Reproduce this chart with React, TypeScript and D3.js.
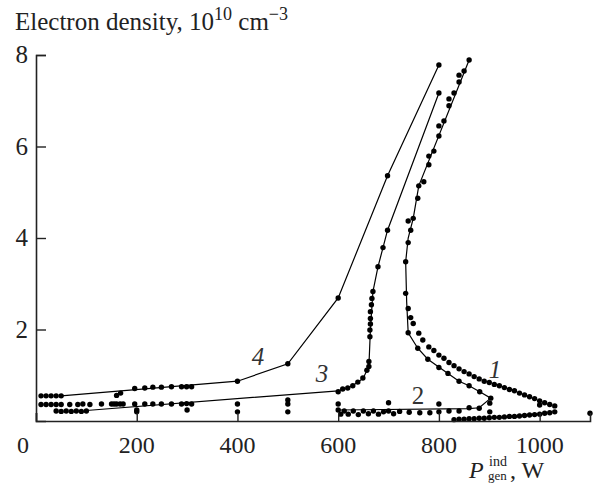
import React, { useEffect, useRef } from "react";
import * as d3 from "d3";

type Pt = [number, number];

// tick labels
const xTicks = [0, 200, 400, 600, 800, 1000];
const yTicks = [2, 4, 6, 8];

// curve 4
const curve4Line: Pt[] = [[50, 0.55], [400, 0.87], [500, 1.25], [600, 2.69], [698, 5.36], [800, 7.78]];
const curve4Dots: Pt[] = [
  [10, 0.55], [20, 0.55], [30, 0.55], [40, 0.55], [50, 0.55],
  [160, 0.56], [168, 0.61], [196, 0.71], [216, 0.72], [232, 0.74], [249, 0.74],
  [269, 0.75], [289, 0.75], [299, 0.75], [309, 0.75],
  [400, 0.87], [500, 1.25], [600, 2.69], [698, 5.36], [800, 7.78],
];

// curve 3
const curve3Line: Pt[] = [
  [100, 0.23], [600, 0.66], [620, 0.72], [640, 0.85], [650, 0.94], [661, 1.2],
  [664, 2.0], [669, 2.83], [679, 3.37], [689, 3.79], [698, 4.17], [800, 7.17],
];
const curve3Dots: Pt[] = [
  [10, 0.36], [20, 0.36], [30, 0.36], [40, 0.36], [50, 0.36], [67, 0.36], [83, 0.36],
  [93, 0.37], [107, 0.36], [130, 0.37], [150, 0.37], [155, 0.37], [160, 0.37], [167, 0.37],
  [173, 0.37], [196, 0.37], [216, 0.37], [232, 0.37], [249, 0.37], [269, 0.37], [289, 0.37],
  [299, 0.38], [309, 0.37],
  [40, 0.22], [50, 0.21], [60, 0.22], [70, 0.21], [80, 0.22], [90, 0.21], [100, 0.22],
  [200, 0.24], [200, 0.2], [300, 0.24], [400, 0.37], [400, 0.2], [500, 0.46], [500, 0.37], [500, 0.2],
  [600, 0.64], [609, 0.7], [619, 0.72], [629, 0.77], [639, 0.85], [649, 0.94], [657, 1.11],
  [661, 1.19], [661, 1.3], [663, 1.84], [663, 1.99], [664, 2.12], [664, 2.24], [664, 2.39],
  [666, 2.54], [667, 2.68], [669, 2.83], [679, 3.37], [689, 3.79], [698, 4.17], [800, 7.17],
];

// curve 2
const curve2Line: Pt[] = [
  [600, 0.24], [860, 0.27], [880, 0.29], [903, 0.5], [881, 0.64], [860, 0.77], [840, 0.87],
  [818, 1.04], [778, 1.35], [758, 1.59], [739, 1.93], [736, 2.6], [734, 3.48], [739, 4.0],
  [749, 4.43], [760, 5.14], [860, 7.89],
];
const curve2Dots: Pt[] = [
  [600, 0.24], [605, 0.15], [612, 0.22], [620, 0.15], [630, 0.22], [640, 0.14], [650, 0.22],
  [660, 0.16], [670, 0.22], [680, 0.15], [690, 0.2], [700, 0.22], [710, 0.16], [722, 0.21],
  [741, 0.19], [762, 0.18], [782, 0.18], [800, 0.2], [820, 0.22], [840, 0.22], [860, 0.29],
  [880, 0.28], [600, 0.37], [700, 0.4], [800, 0.37], [901, 0.39], [901, 0.2], [903, 0.5],
  [881, 0.64], [860, 0.77], [840, 0.87], [818, 1.04], [800, 1.17], [778, 1.35], [758, 1.59],
  [739, 1.93], [749, 2.13], [744, 2.26], [739, 2.46], [734, 2.79], [734, 3.48], [739, 3.9],
  [744, 4.17], [739, 4.37], [749, 4.43], [758, 4.87], [760, 5.14], [770, 5.23], [780, 5.6],
  [780, 5.79], [790, 5.9], [800, 6.23], [800, 6.45], [810, 6.56], [820, 6.89], [820, 7.04],
  [830, 7.17], [840, 7.41], [840, 7.56], [850, 7.65], [860, 7.89],
];

// curve 1 (dots only)
const curve1Dots: Pt[] = [
  [760, 1.92], [768, 1.77], [780, 1.62], [790, 1.54], [800, 1.44], [810, 1.37], [820, 1.28],
  [830, 1.21], [840, 1.14], [850, 1.08], [860, 1.03], [870, 0.97], [880, 0.92], [890, 0.87],
  [900, 0.84], [910, 0.8], [920, 0.77], [930, 0.73], [940, 0.69], [950, 0.66], [960, 0.61],
  [970, 0.57], [980, 0.53], [990, 0.49], [1000, 0.44], [1010, 0.4], [1020, 0.36], [1030, 0.33],
  [830, 0.03], [840, 0.04], [850, 0.04], [860, 0.05], [870, 0.05], [880, 0.06], [890, 0.06],
  [900, 0.07], [910, 0.08], [920, 0.08], [930, 0.09], [940, 0.1], [950, 0.1], [960, 0.11],
  [970, 0.12], [980, 0.13], [990, 0.14], [1000, 0.15], [1010, 0.17], [1020, 0.18], [1030, 0.2],
  [1000, 0.35], [1100, 0.17],
];

const curveLabels = [
  { text: "1", x: 495, y: 378, italic: true },
  { text: "2", x: 418, y: 404, italic: false },
  { text: "3", x: 322, y: 382, italic: true },
  { text: "4", x: 258, y: 365, italic: true },
];

const font = "Liberation Serif, Times New Roman, serif";

export default function App() {
  const ref = useRef<SVGSVGElement>(null);

  useEffect(() => {
    const svg = d3.select(ref.current);
    svg.selectAll("*").remove();

    const x = d3.scaleLinear().domain([0, 1100]).range([36, 590]);
    const y = d3.scaleLinear().domain([0, 8]).range([421, 55]);

    const line = d3
      .line<Pt>()
      .x((d) => x(d[0]))
      .y((d) => y(d[1]));

    const g = svg.append("g");

    // polylines
    [curve4Line, curve3Line, curve2Line].forEach((pts) => {
      g.append("path")
        .attr("d", line(pts))
        .attr("fill", "none")
        .attr("stroke", "#000")
        .attr("stroke-width", 1.2);
    });

    // dots
    const allDots = [...curve4Dots, ...curve3Dots, ...curve2Dots, ...curve1Dots];
    g.selectAll("circle")
      .data(allDots)
      .enter()
      .append("circle")
      .attr("cx", (d) => x(d[0]))
      .attr("cy", (d) => y(d[1]))
      .attr("r", 2.7)
      .attr("fill", "#000");

    // axes
    const xAxis = svg
      .append("g")
      .attr("transform", `translate(0,${y(0)})`)
      .call(d3.axisTop(x).tickValues(xTicks).tickSize(8).tickFormat(() => ""));
    xAxis.select(".domain").attr("stroke", "#222").attr("stroke-width", 1.6);
    xAxis.selectAll(".tick line").attr("stroke", "#222").attr("stroke-width", 1.4);

    const yAxis = svg
      .append("g")
      .attr("transform", `translate(${x(0)},0)`)
      .call(d3.axisRight(y).tickValues(yTicks).tickSize(10).tickFormat(() => ""));
    yAxis.select(".domain").attr("stroke", "#222").attr("stroke-width", 1.6);
    yAxis.selectAll(".tick line").attr("stroke", "#222").attr("stroke-width", 1.4);

    const txt = svg.append("g").style("font-family", font).attr("fill", "#222");

    // tick labels
    txt
      .append("g")
      .selectAll("text")
      .data(xTicks)
      .enter()
      .append("text")
      .attr("x", (d) => (d === 0 ? x(d) - 13 : x(d)))
      .attr("y", 453)
      .attr("text-anchor", "middle")
      .attr("font-size", 24)
      .text((d) => d);

    txt
      .append("g")
      .selectAll("text")
      .data(yTicks)
      .enter()
      .append("text")
      .attr("x", 28)
      .attr("y", (d) => y(d) + 8)
      .attr("text-anchor", "end")
      .attr("font-size", 25)
      .text((d) => d);

    // y title
    const title = txt.append("text").attr("x", 15).attr("y", 30).attr("font-size", 25);
    title.append("tspan").text("Electron density, 10");
    title.append("tspan").attr("font-size", 18).attr("dy", -10).text("10");
    title.append("tspan").attr("dy", 10).text(" cm");
    title.append("tspan").attr("font-size", 18).attr("dy", -10).text("\u22123");

    // x title
    txt.append("text").attr("x", 469).attr("y", 478).attr("font-size", 24).attr("font-style", "italic").text("P");
    txt.append("text").attr("x", 489).attr("y", 466).attr("font-size", 14).text("ind");
    txt.append("text").attr("x", 488).attr("y", 480).attr("font-size", 13).text("gen");
    txt.append("text").attr("x", 510).attr("y", 478).attr("font-size", 24).text(", W");

    // curve numbers
    txt
      .append("g")
      .selectAll("text")
      .data(curveLabels)
      .enter()
      .append("text")
      .attr("x", (d) => d.x)
      .attr("y", (d) => d.y)
      .attr("text-anchor", "middle")
      .attr("font-size", 25)
      .attr("font-style", (d) => (d.italic ? "italic" : "normal"))
      .attr("fill", "#333")
      .text((d) => d.text);
  }, []);

  return (
    <div style={{ position: "absolute", left: 0, top: 0 }}>
      <svg ref={ref} width={596} height={485} style={{ display: "block", background: "#fff" }} />
    </div>
  );
}
